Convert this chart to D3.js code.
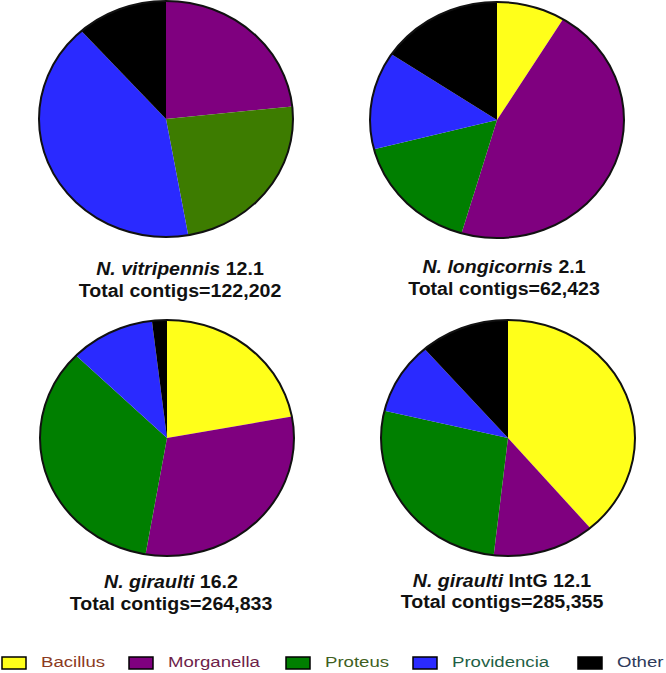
<!DOCTYPE html>
<html>
<head>
<meta charset="utf-8">
<script src="https://cdn.jsdelivr.net/npm/d3@7"></script>
<style>
  body { margin: 0; background: #fff; }
  svg { display: block; }
</style>
</head>
<body>
<div id="chart-area"></div>
<script>
// genus order used by every pie and the legend
var categories = ["Bacillus", "Morganella", "Proteus", "Providencia", "Other"];

// percent of contigs per genus
var vitripennis = [0, 23.3, 23.9, 41.2, 11.6];
var longicornis = [8.7, 45.8, 16.5, 13.4, 15.6];
var giraulti16 = [22.1, 30.6, 34.6, 10.8, 1.9];
var giraultiIntG = [38.8, 13.0, 26.9, 9.9, 11.4];

var species = ["N. vitripennis", "N. longicornis", "N. giraulti", "N. giraulti"];
var strains = [" 12.1", " 2.1", " 16.2", " IntG 12.1"];
var totals = ["Total contigs=122,202", "Total contigs=62,423", "Total contigs=264,833", "Total contigs=285,355"];

var sliceColors = ["#ffff1a", "#7f007f", "#007f00", "#2a2aff", "#000000"];
var labelColors = ["#8b3a22", "#6e1f4a", "#3f5f1f", "#1f5f46", "#2f3a5a"];

var svg_width = 666;
var svg_height = 673;
var ry = 118;
var rx = 127;
var stretch = 1.12;   // the whole figure is a bit wider than tall

// pie centres and title positions
var layout = [
    {cx: 166, cy: 119, tx: 180, ty1: 275, ty2: 297},
    {cx: 497, cy: 120, tx: 504, ty1: 273, ty2: 295},
    {cx: 167, cy: 438, tx: 171, ty1: 588, ty2: 610},
    {cx: 508, cy: 438, tx: 502, ty1: 587, ty2: 608}
];

var series = [vitripennis, longicornis, giraulti16, giraultiIntG];

var color = d3.scaleOrdinal()
    .domain(categories)
    .range(sliceColors);

var pie = d3.pie().sort(null);
var arc = d3.arc().innerRadius(0).outerRadius(ry);

var svg = d3.select("#chart-area").append("svg")
    .attr("width", svg_width)
    .attr("height", svg_height);

function title(x, y) {
    return svg.append("text")
        .attr("transform", "translate(" + x + "," + y + ") scale(" + stretch + ",1)")
        .attr("text-anchor", "middle")
        .style("font-family", "'Liberation Sans', Arial, sans-serif")
        .style("font-size", "17.5px")
        .style("font-weight", "bold")
        .attr("fill", "#111");
}

series.forEach((values, i) => {
    var L = layout[i];
    var g = svg.append("g")
        .attr("transform", "translate(" + L.cx + "," + L.cy + ")");

    g.append("g")
        .attr("transform", "scale(" + (rx / ry) + ",1)")
        .selectAll("path")
        .data(pie(values))
        .enter()
        .append("path")
            .attr("d", arc)
            .attr("fill", (d, j) => {
                // the first pie uses a more olive green for Proteus
                if (i == 0 && j == 2) return "#3d7c00";
                return color(categories[j]);
            });

    g.append("ellipse")
        .attr("rx", rx)
        .attr("ry", ry)
        .attr("fill", "none")
        .attr("stroke", "#111")
        .attr("stroke-width", 2);

    var t1 = title(L.tx, L.ty1);
    t1.append("tspan").style("font-style", "italic").text(species[i]);
    t1.append("tspan").text(strains[i]);

    title(L.tx, L.ty2).text(totals[i]);
});

// legend
var legendX = [2, 129, 286, 413, 578];
var legend = svg.append("g").attr("transform", "translate(0,657)");

var items = legend.selectAll("g")
    .data(categories)
    .enter()
    .append("g")
        .attr("transform", (d, i) => "translate(" + legendX[i] + ",0)");

items.append("rect")
    .attr("width", 24)
    .attr("height", 12)
    .attr("fill", (d) => color(d))
    .attr("stroke", "#000")
    .attr("stroke-width", 1.5);

items.append("text")
    .attr("transform", "translate(39,10) scale(1.2,1)")
    .style("font-family", "'Liberation Sans', Arial, sans-serif")
    .style("font-size", "15.5px")
    .attr("fill", (d, i) => labelColors[i])
    .text((d) => d);
</script>
</body>
</html>
